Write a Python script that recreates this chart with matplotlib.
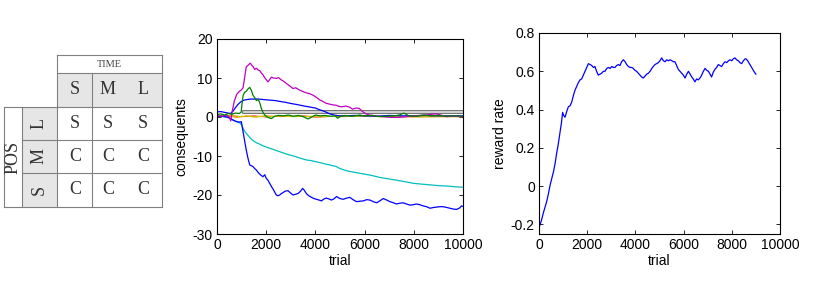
import matplotlib
matplotlib.use("Agg")
import matplotlib.pyplot as plt
from matplotlib.patches import Rectangle

plt.rcParams["font.family"] = ["Liberation Sans", "DejaVu Sans"]
plt.rcParams["axes.unicode_minus"] = False

# table contents
time_labels = ["S", "M", "L"]
pos_labels = ["L", "M", "S"]
cells = [["S", "S", "S"],
         ["C", "C", "C"],
         ["C", "C", "C"]]

# middle panel: (trial, value)
magenta = [(0, 0.3), (200, 0.2), (400, 0.5), (500, 0.0), (560, -1.0), (620, 1.5), (700, 4.0), (800, 5.8),
           (900, 6.5), (1000, 7.0), (1060, 7.5), (1120, 10.0), (1190, 12.9), (1250, 13.2), (1300, 13.5),
           (1355, 13.8), (1420, 13.2), (1480, 12.8), (1530, 12.2), (1600, 12.5), (1680, 12.0), (1735, 11.9),
           (1800, 11.3), (1870, 10.8), (1950, 10.0), (2070, 9.0), (2140, 9.6), (2210, 10.2), (2300, 10.0),
           (2410, 9.9), (2500, 10.1), (2615, 9.5), (2700, 9.2), (2820, 8.6), (2950, 8.0), (3090, 7.3),
           (3200, 7.5), (3360, 6.9), (3500, 6.5), (3630, 6.2), (3760, 6.0), (3900, 5.6), (4050, 5.0),
           (4170, 4.4), (4300, 4.0), (4440, 3.5), (4580, 3.3), (4715, 3.1), (4850, 3.0), (4920, 2.8),
           (5050, 2.6), (5240, 2.8), (5400, 2.5), (5510, 2.0), (5650, 2.3), (5780, 2.2), (5900, 1.5),
           (6050, 0.8), (6200, 0.5), (6460, 0.3), (6700, 0.1), (6870, 0.0), (7100, -0.1), (7410, -0.1),
           (7700, 0.1), (7960, 0.3), (8200, 0.4), (8500, 0.5), (8700, 0.7), (8910, 0.8), (9100, 0.5),
           (9320, 0.1), (9600, 0.2), (9860, 0.1), (10000, 0.1)]

green = [(0, 0.6), (150, 0.8), (300, 0.5), (450, 0.9), (600, 0.7), (750, 1.0), (900, 0.9), (980, 1.2),
         (1020, 3.5), (1060, 5.5), (1120, 6.3), (1190, 6.6), (1260, 7.2), (1330, 7.6), (1400, 6.8),
         (1460, 5.6), (1530, 5.0), (1600, 4.2), (1660, 4.5), (1710, 4.1), (1760, 3.2), (1800, 2.2),
         (1870, 1.2), (1940, 0.5), (2070, -0.1), (2210, -0.4), (2350, 0.2), (2500, 0.4), (2700, 0.3),
         (2900, 0.5), (3100, 0.2), (3300, 0.4), (3500, 0.1), (3700, -0.5), (3850, 0.0), (4000, 0.5),
         (4200, 0.3), (4400, 0.4), (4600, 0.2), (4800, 0.3), (4900, -0.3), (5000, 0.1), (5200, 0.4),
         (5500, 0.2), (5800, 0.5), (6000, 0.3), (6300, 0.4), (6600, 0.1), (6900, 0.2), (7200, 0.3),
         (7400, 0.5), (7600, 1.0), (7800, 0.3), (8100, 0.2), (8400, 0.5), (8700, 0.3), (9000, 0.4),
         (9300, 0.2), (9600, 0.3), (10000, 0.2)]

blue_up = [(0, 1.3), (150, 1.4), (300, 1.2), (450, 1.0), (550, 0.9), (650, 1.5), (750, 2.4), (850, 3.2),
           (950, 3.8), (1050, 4.2), (1150, 4.4), (1250, 4.5), (1400, 4.6), (1550, 4.6), (1700, 4.6),
           (1850, 4.5), (2000, 4.4), (2200, 4.3), (2380, 4.2), (2550, 4.0), (2750, 3.8), (2900, 3.6),
           (3060, 3.4), (3250, 3.2), (3400, 3.0), (3550, 2.8), (3740, 2.6), (3900, 2.4), (4000, 2.3),
           (4150, 1.9), (4300, 1.6), (4450, 1.2), (4560, 0.85), (4700, 0.6), (4850, 0.4), (4970, 0.3),
           (5200, 0.3), (5600, 0.4), (6000, 0.3), (6500, 0.2), (7000, 0.4), (7500, 0.3), (8000, 0.3),
           (8500, 0.4), (9000, 0.3), (9500, 0.3), (10000, 0.3)]

cyan = [(0, 0.2), (200, 0.1), (400, 0.0), (520, -0.3), (620, -0.6), (720, -1.0), (820, -1.3), (920, -1.5),
        (1000, -2.0), (1060, -2.9), (1120, -3.6), (1190, -4.2), (1300, -5.0), (1400, -5.7), (1500, -6.2),
        (1600, -6.6), (1750, -7.0), (1870, -7.4), (2000, -7.7), (2140, -8.0), (2280, -8.3), (2410, -8.6),
        (2600, -9.0), (2820, -9.5), (3000, -9.8), (3220, -10.2), (3400, -10.6), (3630, -11.0),
        (3850, -11.2), (4040, -11.5), (4250, -11.8), (4440, -12.1), (4650, -12.4), (4850, -12.7),
        (4990, -13.2), (5270, -13.8), (5600, -14.2), (5950, -14.6), (6300, -15.0), (6620, -15.5),
        (7000, -15.9), (7300, -16.2), (7650, -16.6), (7980, -17.0), (8300, -17.2), (8660, -17.4),
        (9000, -17.6), (9340, -17.7), (9700, -17.9), (10000, -18.0)]

blue_down = [(0, 0.1), (200, 0.2), (400, 0.0), (520, -0.3), (620, -0.7), (720, -1.0), (820, -1.2),
             (920, -1.3), (990, -1.2), (1060, -3.8), (1120, -6.0), (1190, -8.5), (1260, -10.6),
             (1330, -12.3), (1400, -12.5), (1460, -12.7), (1530, -13.2), (1600, -13.6), (1670, -14.2),
             (1730, -14.6), (1800, -15.0), (1870, -15.3), (1940, -14.8), (2000, -15.7), (2070, -16.2),
             (2140, -17.0), (2210, -17.8), (2280, -18.5), (2350, -19.3), (2410, -20.0), (2480, -20.2),
             (2550, -20.0), (2620, -19.6), (2680, -19.4), (2780, -19.0), (2890, -18.9), (2990, -19.5),
             (3090, -20.0), (3200, -19.8), (3300, -19.6), (3400, -19.0), (3480, -18.3), (3550, -18.8),
             (3630, -19.6), (3730, -20.2), (3840, -20.6), (3940, -20.9), (4040, -21.1), (4150, -21.3),
             (4250, -21.5), (4350, -21.0), (4450, -20.8), (4550, -21.0), (4650, -21.3), (4750, -21.0),
             (4860, -20.4), (4990, -20.9), (5130, -21.1), (5270, -20.8), (5400, -20.6), (5530, -21.2),
             (5670, -21.7), (5800, -21.6), (5950, -21.5), (6080, -21.2), (6220, -21.3), (6350, -21.7),
             (6490, -22.0), (6620, -21.5), (6760, -20.9), (6900, -21.3), (7030, -21.7), (7170, -22.0),
             (7300, -22.3), (7430, -22.1), (7570, -22.0), (7700, -22.3), (7840, -22.6), (7970, -22.5),
             (8110, -22.3), (8250, -22.5), (8380, -22.8), (8520, -23.0), (8660, -23.4), (8800, -23.2),
             (8930, -23.1), (9060, -23.0), (9200, -23.0), (9340, -23.2), (9470, -23.4), (9600, -23.6),
             (9740, -23.7), (9870, -23.3), (9940, -22.8), (10000, -22.9)]

red = [(0, 0.2), (500, 0.4), (1000, 0.1), (1500, 0.3), (2000, 0.0), (2500, 0.2), (3000, 0.1), (3500, 0.3),
       (4000, 0.0), (5000, 0.2), (6000, 0.1), (7000, 0.2), (8000, 0.1), (9000, 0.2), (10000, 0.1)]
yellow = [(0, 0.5), (300, 0.2), (600, 0.4), (900, 0.1), (1200, 0.3), (1500, 0.0), (1800, 0.2), (2200, 0.1),
          (2600, 0.3), (3000, 0.1), (4000, 0.2), (5000, 0.1), (6000, 0.2), (8000, 0.1), (10000, 0.1)]
orange = [(0, 0.0), (400, 0.3), (800, -0.1), (1200, 0.2), (1600, 0.0), (2000, 0.3), (2600, 0.1),
          (3200, 0.2), (4000, 0.0), (5000, 0.2), (6500, 0.1), (8000, 0.0), (10000, 0.1)]
gray_level = [(1100, 1.25), (10000, 1.25)]

# right panel: reward rate
reward = [(0, -0.25), (20, -0.21), (100, -0.18), (180, -0.14), (250, -0.11), (320, -0.08), (390, -0.04),
          (460, 0.005), (530, 0.04), (600, 0.075), (670, 0.12), (730, 0.17), (800, 0.22), (870, 0.28),
          (930, 0.33), (980, 0.385), (1020, 0.37), (1080, 0.36), (1150, 0.39), (1220, 0.415), (1290, 0.42),
          (1360, 0.44), (1420, 0.47), (1490, 0.50), (1560, 0.52), (1630, 0.54), (1700, 0.555), (1770, 0.56),
          (1840, 0.58), (1910, 0.60), (1980, 0.62), (2050, 0.64), (2120, 0.635), (2190, 0.63), (2260, 0.62),
          (2320, 0.625), (2390, 0.60), (2460, 0.58), (2530, 0.585), (2600, 0.59), (2670, 0.60), (2740, 0.60),
          (2810, 0.615), (2880, 0.62), (2950, 0.615), (3020, 0.625), (3090, 0.62), (3150, 0.62), (3220, 0.63),
          (3290, 0.635), (3360, 0.63), (3430, 0.65), (3500, 0.66), (3570, 0.65), (3640, 0.635), (3710, 0.625),
          (3780, 0.62), (3850, 0.62), (3910, 0.615), (3980, 0.605), (4050, 0.60), (4120, 0.59), (4190, 0.58),
          (4260, 0.57), (4330, 0.565), (4400, 0.575), (4470, 0.585), (4540, 0.59), (4610, 0.60), (4680, 0.615),
          (4740, 0.625), (4810, 0.635), (4880, 0.64), (4950, 0.645), (5020, 0.655), (5090, 0.67), (5160, 0.655),
          (5230, 0.65), (5300, 0.66), (5370, 0.655), (5440, 0.66), (5510, 0.655), (5580, 0.65), (5640, 0.65),
          (5710, 0.63), (5780, 0.61), (5850, 0.60), (5920, 0.59), (5990, 0.58), (6060, 0.565), (6130, 0.585),
          (6200, 0.60), (6270, 0.585), (6340, 0.57), (6400, 0.56), (6470, 0.545), (6540, 0.56), (6610, 0.555),
          (6680, 0.565), (6750, 0.58), (6820, 0.60), (6890, 0.615), (6960, 0.605), (7030, 0.60), (7100, 0.585),
          (7160, 0.57), (7230, 0.595), (7300, 0.61), (7370, 0.62), (7440, 0.635), (7510, 0.63), (7580, 0.625),
          (7650, 0.64), (7720, 0.65), (7790, 0.645), (7860, 0.655), (7930, 0.66), (8000, 0.655), (8060, 0.665),
          (8130, 0.67), (8200, 0.66), (8270, 0.655), (8340, 0.645), (8410, 0.64), (8480, 0.655), (8550, 0.665),
          (8590, 0.665), (8660, 0.655), (8730, 0.64), (8800, 0.625), (8870, 0.61), (8940, 0.595), (9000, 0.585)]


def xy(pairs):
    return [p[0] for p in pairs], [p[1] for p in pairs]


def style(ax):
    ax.tick_params(direction="in", top=True, right=True, length=3, width=0.6,
                   labelsize=10, pad=3)
    for s in ax.spines.values():
        s.set_linewidth(0.8)


fig = plt.figure(figsize=(8.3, 2.93), dpi=100)

# ---- table (pixel coordinates of the figure) ----
tab = fig.add_axes([0, 0, 1, 1])
tab.set_xlim(0, 830)
tab.set_ylim(293, 0)
tab.axis("off")
grey = "#e6e6e6"
lc = "#808080"
tab.add_patch(Rectangle((57, 73), 105, 34, facecolor=grey, edgecolor="none"))
tab.add_patch(Rectangle((22, 107), 35, 100, facecolor=grey, edgecolor="none"))
hlines = [(55, 57, 162), (73, 57, 162), (107, 4, 162), (140, 22, 162), (173, 22, 162), (207, 4, 162)]
for y, x0, x1 in hlines:
    tab.plot([x0, x1], [y, y], color=lc, lw=0.8)
vlines = [(4, 107, 207), (22, 107, 207), (57, 55, 207), (92, 73, 207), (162, 55, 207)]
for x, y0, y1 in vlines:
    tab.plot([x, x], [y0, y1], color=lc, lw=0.8)

serif = ["Liberation Serif", "DejaVu Serif"]
txt = "#333333"
col_x = [75, 108, 143]
row_y = [123.5, 156.5, 190]
tab.text(109.5, 64.5, "TIME", family=serif, fontsize=7.5, ha="center", va="center", color="#444444")
for cx, lab in zip(col_x, time_labels):
    tab.text(cx, 90, lab, family=serif, fontsize=13, ha="center", va="center", color=txt)
for ry, lab in zip(row_y, pos_labels):
    tab.text(39.5, ry, lab, family=serif, fontsize=13, ha="center", va="center",
             rotation=90, color=txt)
for ry, row in zip(row_y, cells):
    for cx, c in zip(col_x, row):
        tab.text(cx, ry, c, family=serif, fontsize=13, ha="center", va="center", color=txt)
tab.text(13.5, 157, "POS", family=serif, fontsize=13, ha="center", va="center",
         rotation=90, color=txt)

# ---- consequents panel ----
ax1 = fig.add_axes([217 / 830, 59 / 293, 246 / 830, 195 / 293])
gx, gy = xy(gray_level)
ax1.plot(gx, gy, color="#555555", lw=2.6, zorder=1)
ax1.plot(gx, gy, color="#dddddd", lw=1.3, zorder=1.1)
series = [(red, "#e00000", 0.6), (orange, "#ff8000", 0.7), (yellow, "#c8c800", 0.8),
          (blue_up, "#0000ff", 0.9), (cyan, "#00bfbf", 0.9), (blue_down, "#0000ff", 0.9),
          (magenta, "#bf00bf", 0.9), (green, "#008000", 0.9)]
for data, col, lw in series:
    x, y = xy(data)
    ax1.plot(x, y, color=col, lw=lw, zorder=2)
ax1.set_xlim(0, 10000)
ax1.set_ylim(-30, 20)
ax1.set_xticks(range(0, 10001, 2000))
ax1.set_yticks(range(-30, 21, 10))
ax1.set_xlabel("trial", fontsize=10, labelpad=1)
ax1.set_ylabel("consequents", fontsize=10, labelpad=3)
style(ax1)

# ---- reward rate panel ----
ax2 = fig.add_axes([539 / 830, 59 / 293, 241 / 830, 201 / 293])
rx, ry = xy(reward)
ax2.plot(rx, ry, color="#0000ff", lw=0.9)
ax2.set_xlim(0, 10000)
ax2.set_ylim(-0.25, 0.8)
ax2.set_xticks(range(0, 10001, 2000))
ax2.set_yticks([-0.2, 0, 0.2, 0.4, 0.6, 0.8])
ax2.set_yticklabels(["-0.2", "0", "0.2", "0.4", "0.6", "0.8"])
ax2.set_xlabel("trial", fontsize=10, labelpad=1)
ax2.set_ylabel("reward rate", fontsize=10, labelpad=3)
style(ax2)

fig.savefig("out.png", dpi=100)
